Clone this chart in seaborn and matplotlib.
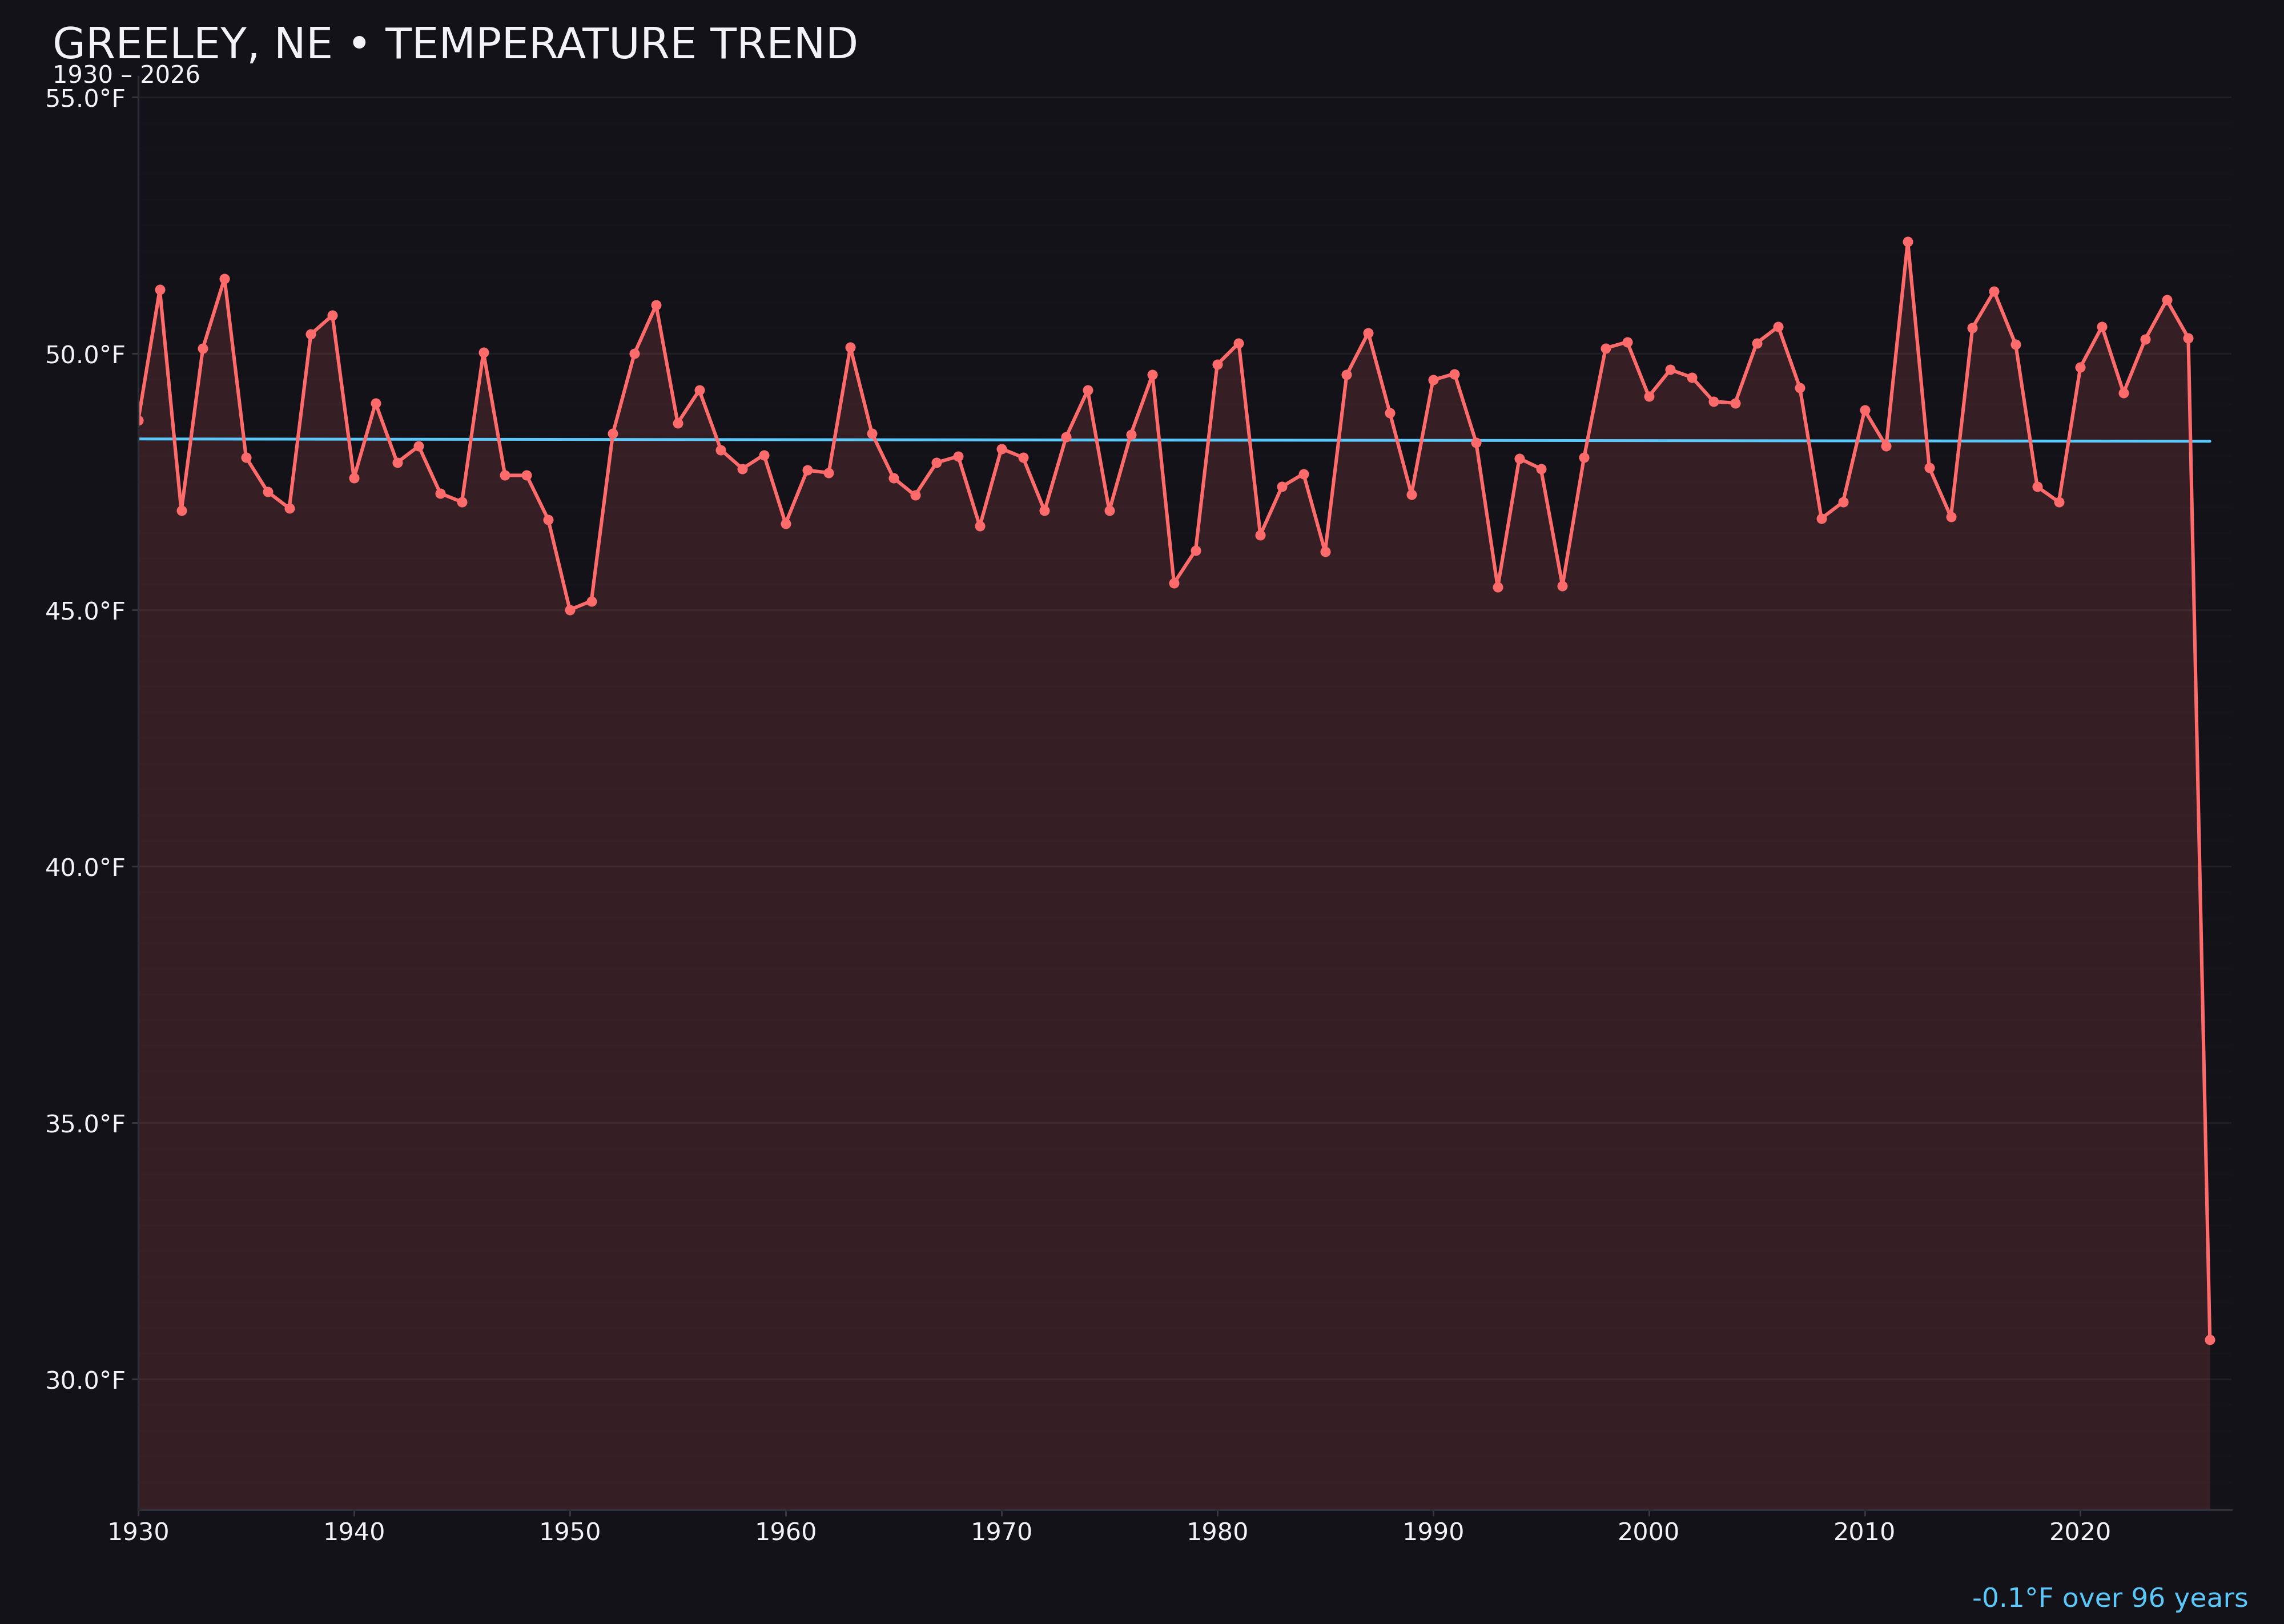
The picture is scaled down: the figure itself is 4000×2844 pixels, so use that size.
import numpy as np
import pandas as pd
import matplotlib
matplotlib.use("Agg")
import matplotlib.pyplot as plt
import seaborn as sns
from matplotlib.ticker import MultipleLocator, FuncFormatter

# Annual mean temperature, Greeley NE
years = list(range(1930, 2027))
temps = [
    48.69, 51.24, 46.93, 50.10, 51.46, 47.97, 47.30, 46.98, 50.37, 50.74,
    47.57, 49.03, 47.87, 48.19, 47.27, 47.10, 50.02, 47.62, 47.62, 46.76,
    45.00, 45.17, 48.44, 50.00, 50.94, 48.64, 49.28, 48.12, 47.75, 48.02,
    46.68, 47.72, 47.67, 50.12, 48.44, 47.57, 47.23, 47.87, 47.99, 46.63,
    48.14, 47.97, 46.93, 48.37, 49.28, 46.93, 48.42, 49.58, 45.52, 46.16,
    49.78, 50.20, 46.46, 47.40, 47.65, 46.13, 49.58, 50.40, 48.84, 47.25,
    49.48, 49.60, 48.26, 45.44, 47.95, 47.75, 45.47, 47.97, 50.10, 50.22,
    49.16, 49.68, 49.53, 49.06, 49.03, 50.20, 50.52, 49.33, 46.78, 47.10,
    48.89, 48.19, 52.18, 47.77, 46.81, 50.50, 51.21, 50.17, 47.40, 47.10,
    49.73, 50.52, 49.23, 50.27, 51.04, 50.30, 30.77,
]
title = "GREELEY, NE \u2022 TEMPERATURE TREND"
subtitle = "1930 \u2013 2026"
trend_note = "-0.1\u00b0F over 96 years"

df = pd.DataFrame({"year": years, "temp": temps})

BG = "#131218"
LINE = "#ff6b6b"
TREND = "#5ac8fa"
TXT = "#f2f2f7"

sns.set_theme(style="dark", rc={
    "figure.facecolor": BG,
    "axes.facecolor": BG,
    "savefig.facecolor": BG,
    "axes.edgecolor": "#2e2e38",
    "xtick.color": "#3a3a44",
    "ytick.color": "#3a3a44",
    "xtick.labelcolor": TXT,
    "ytick.labelcolor": TXT,
    "text.color": TXT,
})
plt.rcParams["font.family"] = ["DejaVu Sans"]

fig = plt.figure(figsize=(20, 14.22), dpi=200)
ax = fig.add_axes([0.0605, 0.0703, 0.9165, 0.8827])

ymin, ymax = 27.45, 55.4

# linear trend over every year shown
slope, icpt = np.polyfit(df["year"], df["temp"], 1)
df["trend"] = slope * df["year"] + icpt

ax.fill_between(df["year"], df["temp"], ymin, color=LINE, alpha=0.15, linewidth=0)
sns.lineplot(data=df, x="year", y="trend", ax=ax, color=TREND, linewidth=1.8)
sns.lineplot(data=df, x="year", y="temp", ax=ax, color=LINE, linewidth=2.2,
             marker="o", markersize=6.5, markeredgewidth=0)

ax.set_xlim(1930, 2027)
ax.set_ylim(ymin, ymax)
ax.set_xticks(range(1930, 2021, 10))
ax.yaxis.set_major_locator(MultipleLocator(5))
ax.yaxis.set_minor_locator(MultipleLocator(0.5))
ax.yaxis.set_major_formatter(FuncFormatter(lambda v, p: f"{v:.1f}\u00b0F"))
ax.tick_params(axis="both", which="major", labelsize=15.5, length=4, width=1,
               left=True, bottom=True)
ax.tick_params(axis="y", which="minor", length=0)
ax.grid(axis="y", which="major", color="white", alpha=0.05, linewidth=1.2)
ax.grid(axis="y", which="minor", color="white", alpha=0.012, linewidth=1)
ax.grid(axis="x", visible=False)
ax.set_xlabel("")
ax.set_ylabel("")
for side in ["top", "right"]:
    ax.spines[side].set_visible(False)
for side in ["left", "bottom"]:
    ax.spines[side].set_color("#2e2e38")
    ax.spines[side].set_linewidth(1.2)

fig.text(0.023, 0.964, title, fontsize=27, color=TXT, ha="left", va="baseline")
fig.text(0.023, 0.949, subtitle, fontsize=15, color=TXT, ha="left", va="baseline")
fig.text(0.9845, 0.0105, trend_note, fontsize=17, color=TREND, ha="right", va="baseline")

fig.savefig("out.png", dpi=200)
